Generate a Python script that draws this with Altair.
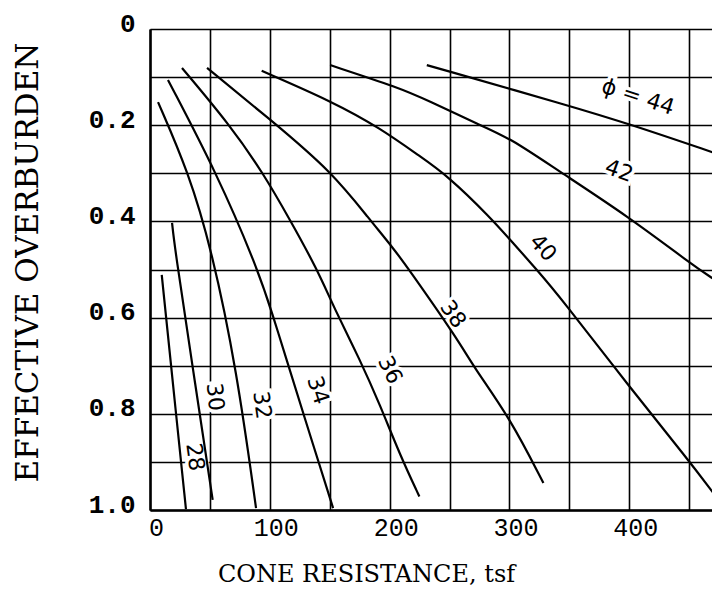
import altair as alt
import pandas as pd

# ---- curve data (cone resistance tsf, effective overburden) ----
phi_28_x = [9.8, 22.0, 30.0]
phi_28_y = [0.511, 0.807, 0.998]

phi_30_x = [18.4, 20.9, 35.5, 52.3]
phi_30_y = [0.403, 0.459, 0.701, 0.979]

phi_32_x = [6.7, 32.0, 51.5, 72.4, 88.5]
phi_32_y = [0.152, 0.297, 0.459, 0.709, 0.996]

phi_34_x = [15.0, 55.7, 89.3, 102.9, 114.0, 128.0, 152.8]
phi_34_y = [0.106, 0.300, 0.495, 0.598, 0.688, 0.800, 0.996]

phi_36_x = [26.7, 66.8, 94.3, 116.9, 139.2, 154.4, 175.3, 192.0, 208.7, 224.8]
phi_36_y = [0.081, 0.200, 0.299, 0.397, 0.498, 0.584, 0.688, 0.782, 0.886, 0.972]

phi_38_x = [47.6, 102.7, 151.7, 183.6, 203.1, 215.6, 257.3, 269.9, 300.5, 328.3]
phi_38_y = [0.081, 0.193, 0.297, 0.397, 0.456, 0.498, 0.647, 0.702, 0.809, 0.944]

phi_40_x = [93.2, 152.2, 192.0, 225.4, 247.9, 283.8, 303.0, 323.0, 342.2, 400.7, 449.3, 470.2]
phi_40_y = [0.087, 0.151, 0.206, 0.265, 0.304, 0.391, 0.445, 0.501, 0.557, 0.746, 0.896, 0.965]

phi_42_x = [150.3, 208.7, 231.2, 275.5, 300.5, 339.7, 399.2, 450.8, 471.6]
phi_42_y = [0.075, 0.123, 0.148, 0.200, 0.227, 0.293, 0.390, 0.487, 0.522]

phi_44_x = [231.0, 350.6, 400.7, 471.6]
phi_44_y = [0.075, 0.160, 0.198, 0.258]

curve_names = ["28", "30", "32", "34", "36", "38", "40", "42", "44"]
curve_xs = [phi_28_x, phi_30_x, phi_32_x, phi_34_x, phi_36_x, phi_38_x, phi_40_x, phi_42_x, phi_44_x]
curve_ys = [phi_28_y, phi_30_y, phi_32_y, phi_34_y, phi_36_y, phi_38_y, phi_40_y, phi_42_y, phi_44_y]

# ---- curve labels ----
label_text = ["28", "30", "32", "34", "36", "38", "40", "42", "ϕ = 44"]
label_x = [37.6, 54.3, 93.5, 140.2, 200.3, 252.9, 328.0, 391.5, 407.3]
label_y = [0.890, 0.765, 0.782, 0.751, 0.709, 0.593, 0.455, 0.295, 0.141]
label_angle = [82, 84, 82, 72, 64, 55, 48, 20, 18]

# ---- axes ----
x_tick_values = [0, 50, 100, 150, 200, 250, 300, 350, 400, 450]
y_tick_values = [0.0, 0.1, 0.2, 0.3, 0.4, 0.5, 0.6, 0.7, 0.8, 0.9, 1.0]

rows = []
for name, xs, ys in zip(curve_names, curve_xs, curve_ys):
    for i, (xv, yv) in enumerate(zip(xs, ys)):
        rows.append({"phi": name, "x": xv, "y": yv, "order": i})
curves = pd.DataFrame(rows)

labels = pd.DataFrame({"text": label_text, "x": label_x, "y": label_y, "angle": label_angle})

x_scale = alt.Scale(domain=[0, 469], nice=False, zero=False)
y_scale = alt.Scale(domain=[0, 1], nice=False, reverse=True)

x_axis = alt.Axis(
    values=x_tick_values,
    labelExpr="datum.value % 100 === 0 ? datum.label : ''",
    title="CONE RESISTANCE, tsf",
    titleX=216, titleY=71, titleAlign="center", titleBaseline="alphabetic",
    titleFont="DejaVu Serif", titleFontSize=24, titleFontWeight="normal",
    labelFont="Liberation Mono", labelFontSize=25, labelPadding=5, labelOffset=6,
    labelFlush=False, ticks=False,
)
y_axis = alt.Axis(
    values=y_tick_values,
    labelExpr="datum.value === 0 ? '0' : (round(datum.value*10) % 2 === 0 ? format(datum.value, '.1f') : '')",
    title="EFFECTIVE OVERBURDEN",
    titleX=-122, titleY=233, titleAngle=270, titleAlign="center", titleBaseline="middle",
    titleFont="DejaVu Serif", titleFontSize=31, titleFontWeight="normal",
    labelFont="Liberation Mono", labelFontSize=26, labelFontWeight="bold",
    labelPadding=15, labelOffset=-6, labelFlush=False, ticks=False,
)

base_lines = alt.Chart(curves).mark_line(
    color="black", strokeWidth=2.2, interpolate="basis", clip=True
).encode(
    x=alt.X("x:Q", scale=x_scale, axis=x_axis),
    y=alt.Y("y:Q", scale=y_scale, axis=y_axis),
    detail="phi:N",
    order="order:Q",
)

halo = alt.Chart(labels).mark_text(
    font="DejaVu Sans", fontSize=22, color="white", stroke="white", strokeWidth=7,
    align="center", baseline="middle", clip=True
).encode(
    x=alt.X("x:Q", scale=x_scale),
    y=alt.Y("y:Q", scale=y_scale),
    text="text:N",
    angle=alt.Angle("angle:Q", scale=None),
)

text = alt.Chart(labels).mark_text(
    font="DejaVu Sans", fontSize=22, color="black",
    align="center", baseline="middle", clip=True
).encode(
    x=alt.X("x:Q", scale=x_scale),
    y=alt.Y("y:Q", scale=y_scale),
    text="text:N",
    angle=alt.Angle("angle:Q", scale=None),
)

chart = alt.layer(halo, base_lines, text).properties(
    width=562, height=481,
    padding={"left": 142, "top": 21, "right": 0, "bottom": 77},
    autosize=alt.AutoSizeParams(type="none"),
    background="white",
).configure_view(stroke=None).configure_axis(
    domainColor="black", domainWidth=2.5,
    gridColor="black", gridWidth=1.6, gridOpacity=1,
    labelColor="black", titleColor="black",
)

chart.save("out.html", embed_options={"renderer": "svg", "actions": False})
